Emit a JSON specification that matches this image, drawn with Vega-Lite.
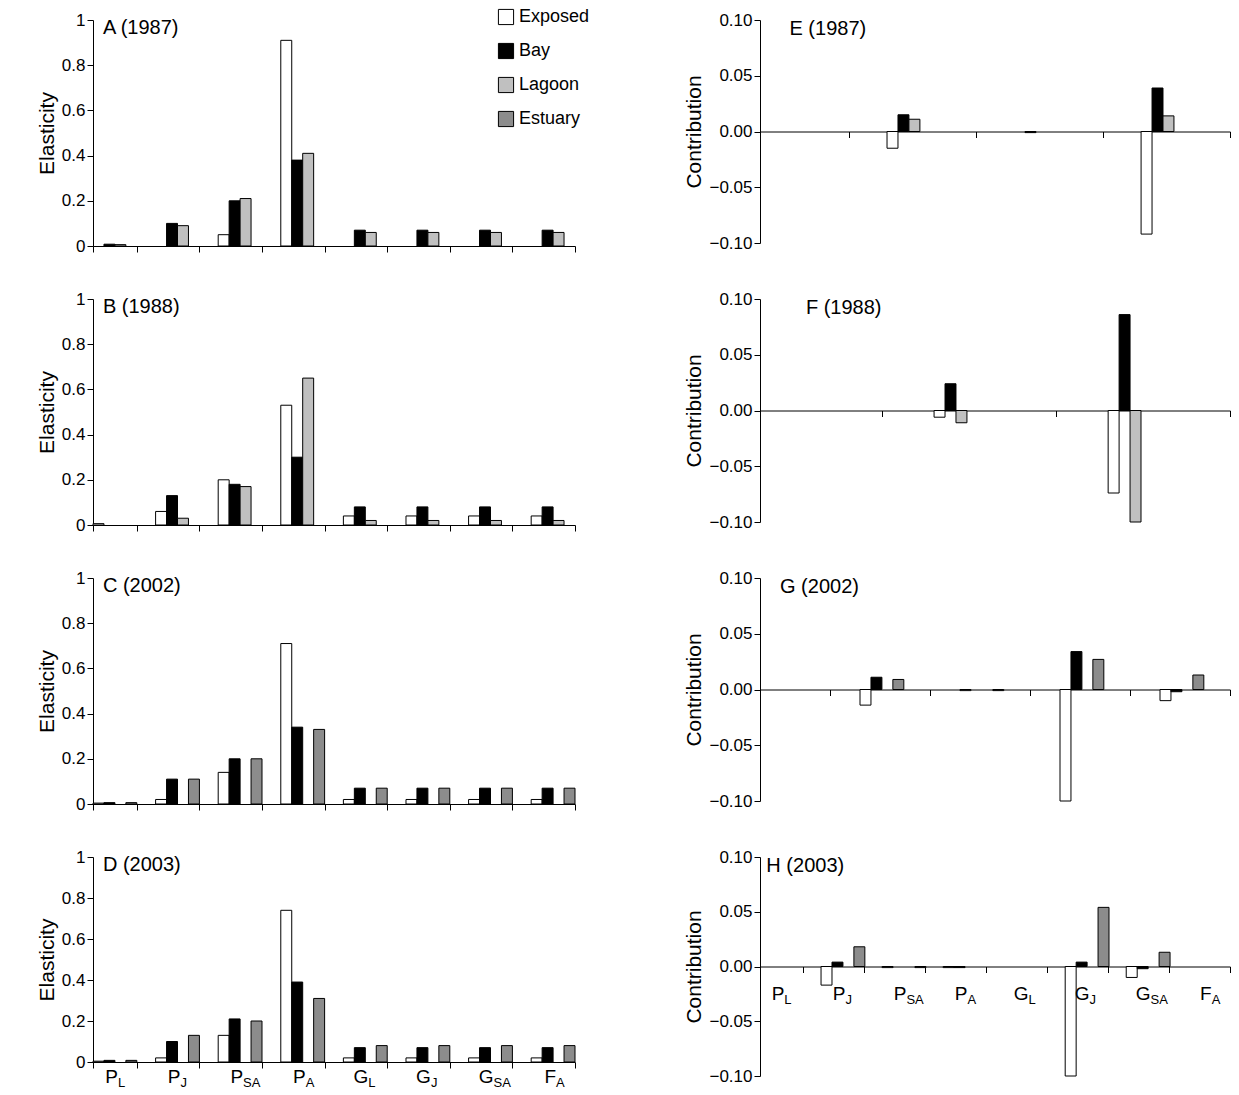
{"$schema":"https://vega.github.io/schema/vega-lite/v6.json",
"padding":{"left":36,"top":8,"right":8,"bottom":4},
"config":{"view":{"stroke":null},"font":"Liberation Sans",
 "axis":{"grid":false,"domainColor":"black","tickColor":"black","labelColor":"black","labelFontSize":17,"titleFontSize":21,"titleFontWeight":"normal","titleColor":"black","tickSize":6,"labelFont":"Liberation Sans","titleFont":"Liberation Sans"},
 "scale":{"offsetBandPaddingInner":0,"offsetBandPaddingOuter":0},
 "text":{"font":"Liberation Sans","fill":"black"}},
"datasets":{
 "el":[
  {"p":"A","c":"PL","s":"Bay","v":0.008},{"p":"A","c":"PL","s":"Lagoon","v":0.006},
  {"p":"A","c":"PJ","s":"Bay","v":0.10},{"p":"A","c":"PJ","s":"Lagoon","v":0.09},
  {"p":"A","c":"PSA","s":"Exposed","v":0.05},{"p":"A","c":"PSA","s":"Bay","v":0.20},{"p":"A","c":"PSA","s":"Lagoon","v":0.21},
  {"p":"A","c":"PA","s":"Exposed","v":0.91},{"p":"A","c":"PA","s":"Bay","v":0.38},{"p":"A","c":"PA","s":"Lagoon","v":0.41},
  {"p":"A","c":"GL","s":"Bay","v":0.07},{"p":"A","c":"GL","s":"Lagoon","v":0.06},
  {"p":"A","c":"GJ","s":"Bay","v":0.07},{"p":"A","c":"GJ","s":"Lagoon","v":0.06},
  {"p":"A","c":"GSA","s":"Bay","v":0.07},{"p":"A","c":"GSA","s":"Lagoon","v":0.06},
  {"p":"A","c":"FA","s":"Bay","v":0.07},{"p":"A","c":"FA","s":"Lagoon","v":0.06},
  {"p":"B","c":"PL","s":"Exposed","v":0.006},
  {"p":"B","c":"PJ","s":"Exposed","v":0.06},{"p":"B","c":"PJ","s":"Bay","v":0.13},{"p":"B","c":"PJ","s":"Lagoon","v":0.03},
  {"p":"B","c":"PSA","s":"Exposed","v":0.20},{"p":"B","c":"PSA","s":"Bay","v":0.18},{"p":"B","c":"PSA","s":"Lagoon","v":0.17},
  {"p":"B","c":"PA","s":"Exposed","v":0.53},{"p":"B","c":"PA","s":"Bay","v":0.30},{"p":"B","c":"PA","s":"Lagoon","v":0.65},
  {"p":"B","c":"GL","s":"Exposed","v":0.04},{"p":"B","c":"GL","s":"Bay","v":0.08},{"p":"B","c":"GL","s":"Lagoon","v":0.02},
  {"p":"B","c":"GJ","s":"Exposed","v":0.04},{"p":"B","c":"GJ","s":"Bay","v":0.08},{"p":"B","c":"GJ","s":"Lagoon","v":0.02},
  {"p":"B","c":"GSA","s":"Exposed","v":0.04},{"p":"B","c":"GSA","s":"Bay","v":0.08},{"p":"B","c":"GSA","s":"Lagoon","v":0.02},
  {"p":"B","c":"FA","s":"Exposed","v":0.04},{"p":"B","c":"FA","s":"Bay","v":0.08},{"p":"B","c":"FA","s":"Lagoon","v":0.02},
  {"p":"C","c":"PL","s":"Exposed","v":0.004},{"p":"C","c":"PL","s":"Bay","v":0.006},{"p":"C","c":"PL","s":"Estuary","v":0.006},
  {"p":"C","c":"PJ","s":"Exposed","v":0.02},{"p":"C","c":"PJ","s":"Bay","v":0.11},{"p":"C","c":"PJ","s":"Estuary","v":0.11},
  {"p":"C","c":"PSA","s":"Exposed","v":0.14},{"p":"C","c":"PSA","s":"Bay","v":0.20},{"p":"C","c":"PSA","s":"Estuary","v":0.20},
  {"p":"C","c":"PA","s":"Exposed","v":0.71},{"p":"C","c":"PA","s":"Bay","v":0.34},{"p":"C","c":"PA","s":"Estuary","v":0.33},
  {"p":"C","c":"GL","s":"Exposed","v":0.02},{"p":"C","c":"GL","s":"Bay","v":0.07},{"p":"C","c":"GL","s":"Estuary","v":0.07},
  {"p":"C","c":"GJ","s":"Exposed","v":0.02},{"p":"C","c":"GJ","s":"Bay","v":0.07},{"p":"C","c":"GJ","s":"Estuary","v":0.07},
  {"p":"C","c":"GSA","s":"Exposed","v":0.02},{"p":"C","c":"GSA","s":"Bay","v":0.07},{"p":"C","c":"GSA","s":"Estuary","v":0.07},
  {"p":"C","c":"FA","s":"Exposed","v":0.02},{"p":"C","c":"FA","s":"Bay","v":0.07},{"p":"C","c":"FA","s":"Estuary","v":0.07},
  {"p":"D","c":"PL","s":"Exposed","v":0.004},{"p":"D","c":"PL","s":"Bay","v":0.008},{"p":"D","c":"PL","s":"Estuary","v":0.008},
  {"p":"D","c":"PJ","s":"Exposed","v":0.02},{"p":"D","c":"PJ","s":"Bay","v":0.10},{"p":"D","c":"PJ","s":"Estuary","v":0.13},
  {"p":"D","c":"PSA","s":"Exposed","v":0.13},{"p":"D","c":"PSA","s":"Bay","v":0.21},{"p":"D","c":"PSA","s":"Estuary","v":0.20},
  {"p":"D","c":"PA","s":"Exposed","v":0.74},{"p":"D","c":"PA","s":"Bay","v":0.39},{"p":"D","c":"PA","s":"Estuary","v":0.31},
  {"p":"D","c":"GL","s":"Exposed","v":0.02},{"p":"D","c":"GL","s":"Bay","v":0.07},{"p":"D","c":"GL","s":"Estuary","v":0.08},
  {"p":"D","c":"GJ","s":"Exposed","v":0.02},{"p":"D","c":"GJ","s":"Bay","v":0.07},{"p":"D","c":"GJ","s":"Estuary","v":0.08},
  {"p":"D","c":"GSA","s":"Exposed","v":0.02},{"p":"D","c":"GSA","s":"Bay","v":0.07},{"p":"D","c":"GSA","s":"Estuary","v":0.08},
  {"p":"D","c":"FA","s":"Exposed","v":0.02},{"p":"D","c":"FA","s":"Bay","v":0.07},{"p":"D","c":"FA","s":"Estuary","v":0.08}
 ],
 "co":[
  {"p":"E","c":"PJ","s":"Exposed","v":-0.015},{"p":"E","c":"PJ","s":"Bay","v":0.015},{"p":"E","c":"PJ","s":"Lagoon","v":0.011},
  {"p":"E","c":"PA","s":"Bay","v":-0.001},
  {"p":"E","c":"GJ","s":"Exposed","v":-0.092},{"p":"E","c":"GJ","s":"Bay","v":0.039},{"p":"E","c":"GJ","s":"Lagoon","v":0.014},
  {"p":"F","c":"PJ","s":"Exposed","v":-0.006},{"p":"F","c":"PJ","s":"Bay","v":0.024},{"p":"F","c":"PJ","s":"Lagoon","v":-0.011},
  {"p":"F","c":"GJ","s":"Exposed","v":-0.074},{"p":"F","c":"GJ","s":"Bay","v":0.086},{"p":"F","c":"GJ","s":"Lagoon","v":-0.100},
  {"p":"G","c":"PJ","s":"Exposed","v":-0.014},{"p":"G","c":"PJ","s":"Bay","v":0.011},{"p":"G","c":"PJ","s":"Estuary","v":0.009},
  {"p":"G","c":"PSA","s":"Exposed","v":-0.001},{"p":"G","c":"PSA","s":"Estuary","v":-0.001},
  {"p":"G","c":"GJ","s":"Exposed","v":-0.100},{"p":"G","c":"GJ","s":"Bay","v":0.034},{"p":"G","c":"GJ","s":"Estuary","v":0.027},
  {"p":"G","c":"GSA","s":"Exposed","v":-0.010},{"p":"G","c":"GSA","s":"Bay","v":-0.002},{"p":"G","c":"GSA","s":"Estuary","v":0.013},
  {"p":"H","c":"PJ","s":"Exposed","v":-0.017},{"p":"H","c":"PJ","s":"Bay","v":0.004},{"p":"H","c":"PJ","s":"Estuary","v":0.018},
  {"p":"H","c":"PSA","s":"Exposed","v":-0.001},{"p":"H","c":"PSA","s":"Estuary","v":-0.001},
  {"p":"H","c":"PA","s":"Exposed","v":-0.001},{"p":"H","c":"PA","s":"Bay","v":-0.001},
  {"p":"H","c":"GJ","s":"Exposed","v":-0.100},{"p":"H","c":"GJ","s":"Bay","v":0.004},{"p":"H","c":"GJ","s":"Estuary","v":0.054},
  {"p":"H","c":"GSA","s":"Exposed","v":-0.010},{"p":"H","c":"GSA","s":"Bay","v":-0.002},{"p":"H","c":"GSA","s":"Estuary","v":0.013}
 ],
 "lab":[
  {"c":"PL","m":"P","sub":"L"},{"c":"PJ","m":"P","sub":"J"},{"c":"PSA","m":"P","sub":"SA"},{"c":"PA","m":"P","sub":"A"},
  {"c":"GL","m":"G","sub":"L"},{"c":"GJ","m":"G","sub":"J"},{"c":"GSA","m":"G","sub":"SA"},{"c":"FA","m":"F","sub":"A"}
 ]
},
"columns":2,
"spacing":{"row":36,"column":93},
"resolve":{"scale":{"fill":"independent"},"legend":{"fill":"independent"}},
"concat":[
 {"width":482,"height":226,"layer":[
  {"data":{"name":"el"},"transform":[{"filter":"datum.p=='A'"}],"mark":{"type":"bar","stroke":"black","strokeWidth":1},
   "encoding":{
    "x":{"field":"c","type":"nominal","sort":["PL","PJ","PSA","PA","GL","GJ","GSA","FA"],"scale":{"paddingInner":0.3,"paddingOuter":0},"axis":{"title":null,"labels":false,"tickBand":"extent"}},
    "xOffset":{"field":"s","sort":["Exposed","Bay","Lagoon","Estuary"]},
    "y":{"field":"v","type":"quantitative","scale":{"domain":[0,1]},"axis":{"title":"Elasticity","values":[0,0.2,0.4,0.6,0.8,1],"format":"~g"}},
    "fill":{"field":"s","type":"nominal","scale":{"domain":["Exposed","Bay","Lagoon","Estuary"],"range":["white","black","#c0c0c0","#8c8c8c"]},
     "legend":{"title":null,"orient":"none","legendX":404,"legendY":-12,"symbolType":"square","symbolSize":230,"symbolStrokeColor":"black","symbolStrokeWidth":1,"labelFontSize":18,"labelColor":"black","rowPadding":14,"labelFont":"Liberation Sans"}}}},
  {"data":{"values":[{}]},"mark":{"type":"text","align":"left","fontSize":20,"dx":-12},"encoding":{"x":{"datum":"PL"},"y":{"datum":0.965},"text":{"value":"A (1987)"}}}
 ]},
 {"width":470,"height":223,"layer":[
  {"data":{"name":"co"},"transform":[{"filter":"datum.p=='E'"}],"mark":{"type":"bar","stroke":"black","strokeWidth":1},
   "encoding":{
    "x":{"field":"c","type":"nominal","sort":["PL","PJ","PSA","PA","GL","GJ","GSA","FA"],"scale":{"paddingInner":0.3,"paddingOuter":0},"axis":{"title":null,"labels":false,"tickBand":"extent","offset":-111.5}},
    "xOffset":{"field":"s","sort":["Exposed","Bay","Lagoon","Estuary"]},
    "y":{"field":"v","type":"quantitative","scale":{"domain":[-0.1,0.1]},"axis":{"title":"Contribution","values":[-0.1,-0.05,0,0.05,0.1],"format":".2f"}},
    "fill":{"field":"s","type":"nominal","scale":{"domain":["Exposed","Bay","Lagoon","Estuary"],"range":["white","black","#c0c0c0","#8c8c8c"]},"legend":null}}},
  {"data":{"values":[{}]},"mark":{"type":"text","align":"left","fontSize":20,"dx":-15},"encoding":{"x":{"datum":"PL"},"y":{"datum":0.092},"text":{"value":"E (1987)"}}}
 ]},
 {"width":482,"height":226,"layer":[
  {"data":{"name":"el"},"transform":[{"filter":"datum.p=='B'"}],"mark":{"type":"bar","stroke":"black","strokeWidth":1},
   "encoding":{
    "x":{"field":"c","type":"nominal","sort":["PL","PJ","PSA","PA","GL","GJ","GSA","FA"],"scale":{"paddingInner":0.3,"paddingOuter":0},"axis":{"title":null,"labels":false,"tickBand":"extent"}},
    "xOffset":{"field":"s","sort":["Exposed","Bay","Lagoon","Estuary"]},
    "y":{"field":"v","type":"quantitative","scale":{"domain":[0,1]},"axis":{"title":"Elasticity","values":[0,0.2,0.4,0.6,0.8,1],"format":"~g"}},
    "fill":{"field":"s","type":"nominal","scale":{"domain":["Exposed","Bay","Lagoon","Estuary"],"range":["white","black","#c0c0c0","#8c8c8c"]},"legend":null}}},
  {"data":{"values":[{}]},"mark":{"type":"text","align":"left","fontSize":20,"dx":-12},"encoding":{"x":{"datum":"PL"},"y":{"datum":0.965},"text":{"value":"B (1988)"}}}
 ]},
 {"width":470,"height":223,"layer":[
  {"data":{"name":"co"},"transform":[{"filter":"datum.p=='F'"}],"mark":{"type":"bar","stroke":"black","strokeWidth":1},
   "encoding":{
    "x":{"field":"c","type":"nominal","sort":["PL","PJ","PSA","PA","GL","GJ","GSA","FA"],"scale":{"paddingInner":0.3,"paddingOuter":0},"axis":{"title":null,"labels":false,"tickBand":"extent","offset":-111.5}},
    "xOffset":{"field":"s","sort":["Exposed","Bay","Lagoon","Estuary"]},
    "y":{"field":"v","type":"quantitative","scale":{"domain":[-0.1,0.1]},"axis":{"title":"Contribution","values":[-0.1,-0.05,0,0.05,0.1],"format":".2f"}},
    "fill":{"field":"s","type":"nominal","scale":{"domain":["Exposed","Bay","Lagoon","Estuary"],"range":["white","black","#c0c0c0","#8c8c8c"]},"legend":null}}},
  {"data":{"values":[{}]},"mark":{"type":"text","align":"left","fontSize":20,"dx":-15},"encoding":{"x":{"datum":"PL"},"y":{"datum":0.092},"text":{"value":"F (1988)"}}}
 ]},
 {"width":482,"height":226,"layer":[
  {"data":{"name":"el"},"transform":[{"filter":"datum.p=='C'"}],"mark":{"type":"bar","stroke":"black","strokeWidth":1},
   "encoding":{
    "x":{"field":"c","type":"nominal","sort":["PL","PJ","PSA","PA","GL","GJ","GSA","FA"],"scale":{"paddingInner":0.3,"paddingOuter":0},"axis":{"title":null,"labels":false,"tickBand":"extent"}},
    "xOffset":{"field":"s","sort":["Exposed","Bay","Lagoon","Estuary"]},
    "y":{"field":"v","type":"quantitative","scale":{"domain":[0,1]},"axis":{"title":"Elasticity","values":[0,0.2,0.4,0.6,0.8,1],"format":"~g"}},
    "fill":{"field":"s","type":"nominal","scale":{"domain":["Exposed","Bay","Lagoon","Estuary"],"range":["white","black","#c0c0c0","#8c8c8c"]},"legend":null}}},
  {"data":{"values":[{}]},"mark":{"type":"text","align":"left","fontSize":20,"dx":-12},"encoding":{"x":{"datum":"PL"},"y":{"datum":0.965},"text":{"value":"C (2002)"}}}
 ]},
 {"width":470,"height":223,"layer":[
  {"data":{"name":"co"},"transform":[{"filter":"datum.p=='G'"}],"mark":{"type":"bar","stroke":"black","strokeWidth":1},
   "encoding":{
    "x":{"field":"c","type":"nominal","sort":["PL","PJ","PSA","PA","GL","GJ","GSA","FA"],"scale":{"paddingInner":0.3,"paddingOuter":0},"axis":{"title":null,"labels":false,"tickBand":"extent","offset":-111.5}},
    "xOffset":{"field":"s","sort":["Exposed","Bay","Lagoon","Estuary"]},
    "y":{"field":"v","type":"quantitative","scale":{"domain":[-0.1,0.1]},"axis":{"title":"Contribution","values":[-0.1,-0.05,0,0.05,0.1],"format":".2f"}},
    "fill":{"field":"s","type":"nominal","scale":{"domain":["Exposed","Bay","Lagoon","Estuary"],"range":["white","black","#c0c0c0","#8c8c8c"]},"legend":null}}},
  {"data":{"values":[{}]},"mark":{"type":"text","align":"left","fontSize":20,"dx":-15},"encoding":{"x":{"datum":"PL"},"y":{"datum":0.092},"text":{"value":"G (2002)"}}}
 ]},
 {"width":482,"height":205,"layer":[
  {"data":{"name":"el"},"transform":[{"filter":"datum.p=='D'"}],"mark":{"type":"bar","stroke":"black","strokeWidth":1},
   "encoding":{
    "x":{"field":"c","type":"nominal","sort":["PL","PJ","PSA","PA","GL","GJ","GSA","FA"],"scale":{"paddingInner":0.3,"paddingOuter":0},"axis":{"title":null,"labels":false,"tickBand":"extent"}},
    "xOffset":{"field":"s","sort":["Exposed","Bay","Lagoon","Estuary"]},
    "y":{"field":"v","type":"quantitative","scale":{"domain":[0,1]},"axis":{"title":"Elasticity","values":[0,0.2,0.4,0.6,0.8,1],"format":"~g"}},
    "fill":{"field":"s","type":"nominal","scale":{"domain":["Exposed","Bay","Lagoon","Estuary"],"range":["white","black","#c0c0c0","#8c8c8c"]},"legend":null}}},
  {"data":{"values":[{}]},"mark":{"type":"text","align":"left","fontSize":20,"dx":-12},"encoding":{"x":{"datum":"PL"},"y":{"datum":0.96},"text":{"value":"D (2003)"}}},
  {"data":{"name":"lab"},"mark":{"type":"text","align":"right","fontSize":19,"dx":3,"baseline":"middle"},"encoding":{"x":{"field":"c","type":"nominal","sort":["PL","PJ","PSA","PA","GL","GJ","GSA","FA"]},"y":{"datum":-0.075},"text":{"field":"m"}}},
  {"data":{"name":"lab"},"mark":{"type":"text","align":"left","fontSize":13,"dx":3,"dy":6,"baseline":"middle"},"encoding":{"x":{"field":"c","type":"nominal","sort":["PL","PJ","PSA","PA","GL","GJ","GSA","FA"]},"y":{"datum":-0.075},"text":{"field":"sub"}}}
 ]},
 {"width":470,"height":219,"layer":[
  {"data":{"name":"co"},"transform":[{"filter":"datum.p=='H'"}],"mark":{"type":"bar","stroke":"black","strokeWidth":1},
   "encoding":{
    "x":{"field":"c","type":"nominal","sort":["PL","PJ","PSA","PA","GL","GJ","GSA","FA"],"scale":{"paddingInner":0.3,"paddingOuter":0},"axis":{"title":null,"labels":false,"tickBand":"extent","offset":-109.5}},
    "xOffset":{"field":"s","sort":["Exposed","Bay","Lagoon","Estuary"]},
    "y":{"field":"v","type":"quantitative","scale":{"domain":[-0.1,0.1]},"axis":{"title":"Contribution","values":[-0.1,-0.05,0,0.05,0.1],"format":".2f"}},
    "fill":{"field":"s","type":"nominal","scale":{"domain":["Exposed","Bay","Lagoon","Estuary"],"range":["white","black","#c0c0c0","#8c8c8c"]},"legend":null}}},
  {"data":{"values":[{}]},"mark":{"type":"text","align":"left","fontSize":20,"dx":-15},"encoding":{"x":{"datum":"PL"},"y":{"datum":0.092},"text":{"value":"H (2003)"}}},
  {"data":{"name":"lab"},"mark":{"type":"text","align":"right","fontSize":19,"dx":3,"baseline":"middle"},"encoding":{"x":{"field":"c","type":"nominal","sort":["PL","PJ","PSA","PA","GL","GJ","GSA","FA"]},"y":{"datum":-0.025},"text":{"field":"m"}}},
  {"data":{"name":"lab"},"mark":{"type":"text","align":"left","fontSize":13,"dx":3,"dy":6,"baseline":"middle"},"encoding":{"x":{"field":"c","type":"nominal","sort":["PL","PJ","PSA","PA","GL","GJ","GSA","FA"]},"y":{"datum":-0.025},"text":{"field":"sub"}}}
 ]}
]}
